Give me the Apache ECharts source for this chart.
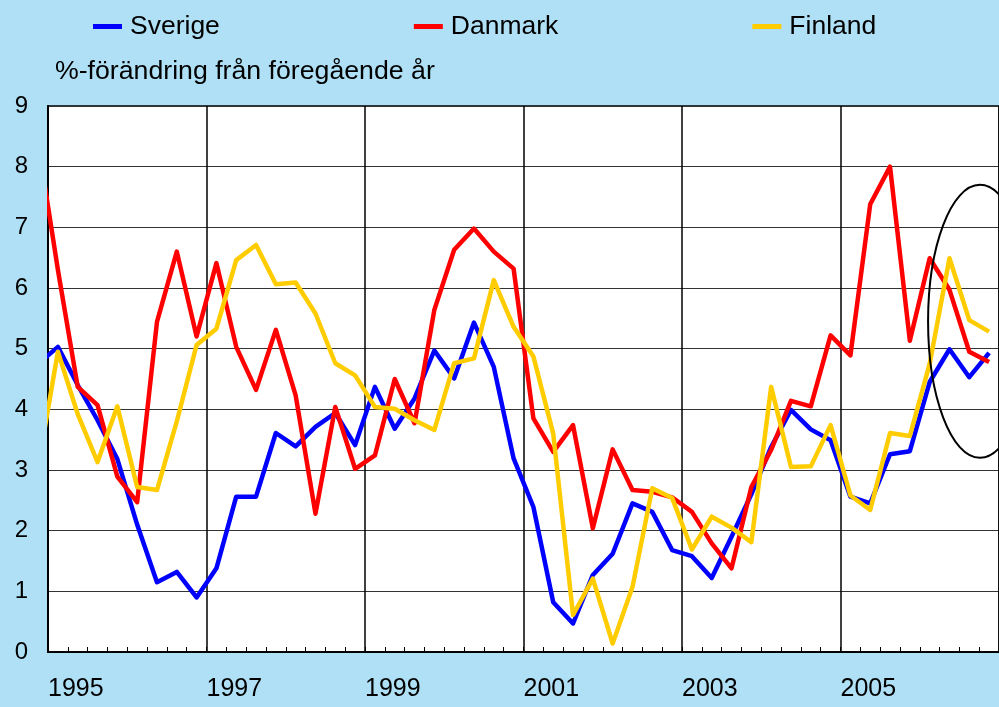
<!DOCTYPE html>
<html>
<head>
<meta charset="utf-8">
<script src="https://cdn.jsdelivr.net/npm/echarts@6/dist/echarts.min.js"></script>
<style>
  html, body { margin: 0; padding: 0; }
  #chart { width: 999px; height: 707px; }
</style>
</head>
<body>
<div id="chart"></div>
<script>
// quarters, first one (1994 K4) is only there so the line enters from the left edge
const quarters = [
    '1994K4',
    '1995K1', '1995K2', '1995K3', '1995K4',
    '1996K1', '1996K2', '1996K3', '1996K4',
    '1997K1', '1997K2', '1997K3', '1997K4',
    '1998K1', '1998K2', '1998K3', '1998K4',
    '1999K1', '1999K2', '1999K3', '1999K4',
    '2000K1', '2000K2', '2000K3', '2000K4',
    '2001K1', '2001K2', '2001K3', '2001K4',
    '2002K1', '2002K2', '2002K3', '2002K4',
    '2003K1', '2003K2', '2003K3', '2003K4',
    '2004K1', '2004K2', '2004K3', '2004K4',
    '2005K1', '2005K2', '2005K3', '2005K4',
    '2006K1', '2006K2', '2006K3', '2006K4'
];

const sverige = [
    4.75,
    5.03, 4.40, 3.82, 3.18,
    2.10, 1.15, 1.32, 0.90,
    1.38, 2.56, 2.56, 3.61,
    3.39, 3.71, 3.94, 3.41,
    4.37, 3.68, 4.18, 4.97,
    4.51, 5.43, 4.70, 3.19,
    2.39, 0.82, 0.47, 1.27,
    1.62, 2.45, 2.31, 1.68,
    1.58, 1.22, 1.90, 2.60,
    3.38, 3.99, 3.67, 3.49,
    2.56, 2.45, 3.26, 3.31,
    4.45, 4.99, 4.53, 4.93
];

const danmark = [
    8.40,
    6.30, 4.37, 4.07, 2.89,
    2.47, 5.44, 6.60, 5.20,
    6.41, 5.03, 4.32, 5.31,
    4.23, 2.28, 4.04, 3.02,
    3.24, 4.50, 3.77, 5.64,
    6.63, 6.98, 6.60, 6.32,
    3.85, 3.30, 3.74, 2.04,
    3.34, 2.67, 2.64, 2.55,
    2.31, 1.79, 1.38, 2.72,
    3.33, 4.14, 4.05, 5.22,
    4.89, 7.38, 8.00, 5.13,
    6.49, 5.97, 4.95, 4.78
];

const finland = [
    3.05,
    4.95, 3.92, 3.13, 4.05,
    2.72, 2.67, 3.80, 5.06,
    5.33, 6.46, 6.71, 6.06,
    6.09, 5.58, 4.76, 4.56,
    4.04, 4.01, 3.82, 3.66,
    4.76, 4.84, 6.13, 5.36,
    4.87, 3.60, 0.61, 1.21,
    0.14, 1.07, 2.70, 2.54,
    1.69, 2.23, 2.05, 1.81,
    4.37, 3.05, 3.06, 3.74,
    2.58, 2.34, 3.61, 3.56,
    4.75, 6.49, 5.47, 5.28
];

const yearLabels = ['1995', '1997', '1999', '2001', '2003', '2005'];

// quarter label -> position in the middle of the quarter
function quarterPos(q) {
    let year = parseInt(q.substring(0, 4));
    let k = parseInt(q.substring(5));
    return year + (k - 0.5) / 4;
}

function toPairs(values) {
    return values.map(function (v, i) {
        return [quarterPos(quarters[i]), v];
    });
}

var chart = echarts.init(document.getElementById('chart'));

var font = 'Liberation Sans, Arial, sans-serif';
var bg = '#b0e0f5';

var option = {
    animation: false,
    backgroundColor: bg,
    textStyle: { fontFamily: font },
    legend: {
        left: 93,
        top: 13,
        padding: 0,
        itemWidth: 29,
        itemHeight: 5,
        itemGap: 194,
        icon: 'rect',
        textStyle: { fontSize: 26.5, color: '#000', fontFamily: font, padding: [0, 0, 0, 3] },
        data: ['Sverige', 'Danmark', 'Finland']
    },
    title: {
        text: '%-förändring från föregående år',
        left: 55,
        top: 58,
        padding: 0,
        textStyle: { fontSize: 26.7, fontWeight: 'normal', color: '#000', fontFamily: font }
    },
    grid: {
        left: 48,
        right: -1,
        top: 106,
        bottom: 55,
        show: true,
        backgroundColor: '#ffffff',
        borderColor: '#000',
        borderWidth: 1.5
    },
    xAxis: {
        type: 'value',
        min: 1995,
        max: 2007,
        interval: 2,
        axisLine: { lineStyle: { color: '#000', width: 2 } },
        axisTick: { show: true, inside: true, length: 5, lineStyle: { color: '#000' } },
        minorTick: { show: true, splitNumber: 8, length: 5, lineStyle: { color: '#000' } },
        splitLine: { show: true, lineStyle: { color: '#000', width: 1.5 } },
        axisLabel: {
            fontSize: 25,
            color: '#000',
            fontFamily: font,
            align: 'left',
            margin: 25,
            showMaxLabel: false,
            formatter: function (v) {
                let s = String(Math.round(v));
                return yearLabels.indexOf(s) >= 0 ? s : '';
            }
        }
    },
    yAxis: {
        type: 'value',
        min: 0,
        max: 9,
        interval: 1,
        axisLine: { show: true, lineStyle: { color: '#000', width: 2 } },
        axisTick: { show: false },
        splitLine: { show: true, lineStyle: { color: '#333', width: 1 } },
        axisLabel: { fontSize: 24, color: '#000', fontFamily: font, margin: 20 }
    },
    series: [
        {
            name: 'Sverige',
            type: 'line',
            data: toPairs(sverige),
            symbol: 'none',
            color: '#0000ff',
            lineStyle: { width: 4.5, join: 'round' }
        },
        {
            name: 'Danmark',
            type: 'line',
            data: toPairs(danmark),
            symbol: 'none',
            color: '#ff0000',
            lineStyle: { width: 4.5, join: 'round' }
        },
        {
            name: 'Finland',
            type: 'line',
            data: toPairs(finland),
            symbol: 'none',
            color: '#ffcc00',
            lineStyle: { width: 4.5, join: 'round' }
        }
    ]
};

chart.setOption(option);

// ellipse round the last quarters, plus a strip hiding the line ends left of the plot
var c = chart.convertToPixel({ gridIndex: 0 }, [2006.76, 5.45]);
var e = chart.convertToPixel({ gridIndex: 0 }, [2006.76 + 0.655, 5.45 + 2.25]);
var left = chart.convertToPixel({ gridIndex: 0 }, [1995, 0]);
chart.setOption({
    graphic: [
        {
            type: 'ellipse',
            shape: { cx: c[0], cy: c[1], rx: Math.abs(e[0] - c[0]), ry: Math.abs(c[1] - e[1]) },
            style: { fill: 'none', stroke: '#000', lineWidth: 2 },
            z: 100
        },
        {
            type: 'rect',
            shape: { x: left[0] - 12, y: 90, width: 11, height: left[1] - 80 },
            style: { fill: bg },
            z: 100
        }
    ]
});
</script>
</body>
</html>
